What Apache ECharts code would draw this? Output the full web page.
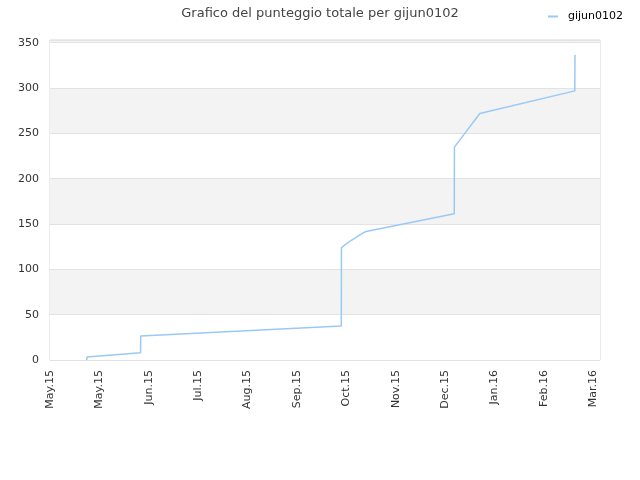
<!DOCTYPE html>
<html>
<head>
<meta charset="utf-8">
<script src="https://cdn.jsdelivr.net/npm/echarts@6/dist/echarts.min.js"></script>
<style>
  html, body { margin: 0; padding: 0; background: #fff; }
  #main { width: 640px; height: 480px; }
</style>
</head>
<body>
<div id="main"></div>
<script>
// giorni dal 1 maggio 2015, una tacca ogni 30 giorni
var xTickLabels = ['May.15', 'May.15', 'Jun.15', 'Jul.15', 'Aug.15', 'Sep.15', 'Oct.15', 'Nov.15', 'Dec.15', 'Jan.16', 'Feb.16', 'Mar.16'];
var days   = [22.3, 22.5, 55.0, 55.1, 176.9, 177.0, 181.8, 186.8, 189.9, 191.9, 245.5, 245.6, 261.0, 318.7, 318.8];
var scores = [0,    3.3,  8,    26.5, 37.6,  124,   130.7, 136.3, 140,   141.8, 161.4, 234.8, 271.9, 296.9, 336.6];

var points = [];
for (var i = 0; i < days.length; i++) {
	points.push([days[i], scores[i]]);
}

var myChart = echarts.init(document.getElementById('main'));
var option = {
	animation: false,
	title: {
		text: 'Grafico del punteggio totale per gijun0102',
		left: 'center',
		top: 2,
		textStyle: {
			fontFamily: 'DejaVu Sans',
			fontSize: 13,
			fontWeight: 'normal',
			color: '#444'
		}
	},
	legend: {
		right: 12,
		top: 6,
		itemWidth: 10,
		itemHeight: 2,
		icon: 'rect',
		textStyle: { fontFamily: 'DejaVu Sans', fontSize: 11, color: '#000', padding: [0, 0, 0, 5] },
		data: ['gijun0102']
	},
	grid: {
		left: 50,
		right: 40,
		top: 40,
		bottom: 120,
		show: true,
		borderColor: '#d8d8d8',
		borderWidth: 1
	},
	xAxis: {
		type: 'value',
		min: 0,
		max: 334,
		interval: 30,
		axisLine: { show: false },
		axisTick: { show: false },
		splitLine: { show: false },
		axisLabel: {
			rotate: 90,
			margin: 10,
			showMaxLabel: false,
			fontFamily: 'DejaVu Sans',
			fontSize: 11,
			color: '#333',
			formatter: function (v) { return xTickLabels[Math.round(v / 30)] || ''; }
		}
	},
	yAxis: {
		type: 'value',
		min: 0,
		max: 353,
		interval: 50,
		axisLine: { show: false },
		axisTick: { show: false },
		axisLabel: {
			margin: 11,
			showMaxLabel: false,
			fontFamily: 'DejaVu Sans',
			fontSize: 11,
			color: '#333'
		},
		splitLine: { lineStyle: { color: '#e2e2e2', width: 1 } },
		splitArea: { show: true, areaStyle: { color: ['#ffffff', '#f3f3f3'] } }
	},
	series: [{
		name: 'gijun0102',
		type: 'line',
		data: points,
		showSymbol: false,
		symbol: 'none',
		lineStyle: { color: '#99c9f5', width: 1.5 },
		itemStyle: { color: '#99c9f5' }
	}]
};
myChart.setOption(option);
</script>
</body>
</html>
